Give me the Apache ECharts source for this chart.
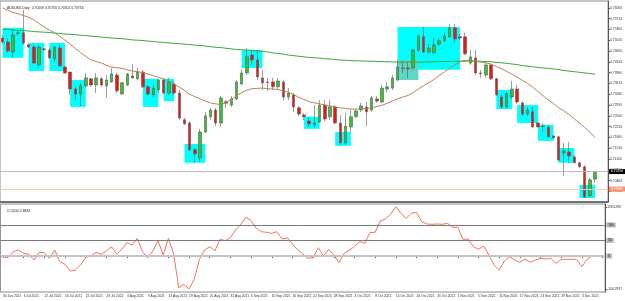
<!DOCTYPE html>
<html><head><meta charset="utf-8">
<script src="https://cdn.jsdelivr.net/npm/echarts@6/dist/echarts.min.js"></script>
<style>html,body{margin:0;padding:0;background:#fff}#c{width:625px;height:301px}</style>
</head><body><div id="c"></div><script>
const dates = ['30 Jun 2021',
'1 Jul 2021','2 Jul 2021','5 Jul 2021','6 Jul 2021','7 Jul 2021','8 Jul 2021','9 Jul 2021','12 Jul 2021','13 Jul 2021','14 Jul 2021','15 Jul 2021','16 Jul 2021','19 Jul 2021','20 Jul 2021','21 Jul 2021','22 Jul 2021','23 Jul 2021','26 Jul 2021','27 Jul 2021','28 Jul 2021','29 Jul 2021','30 Jul 2021',
'2 Aug 2021','3 Aug 2021','4 Aug 2021','5 Aug 2021','6 Aug 2021','9 Aug 2021','10 Aug 2021','11 Aug 2021','12 Aug 2021','13 Aug 2021','16 Aug 2021','17 Aug 2021','18 Aug 2021','19 Aug 2021','20 Aug 2021','23 Aug 2021','24 Aug 2021','25 Aug 2021','26 Aug 2021','27 Aug 2021','30 Aug 2021','31 Aug 2021',
'1 Sep 2021','2 Sep 2021','3 Sep 2021','6 Sep 2021','7 Sep 2021','8 Sep 2021','9 Sep 2021','10 Sep 2021','13 Sep 2021','14 Sep 2021','15 Sep 2021','16 Sep 2021','17 Sep 2021','20 Sep 2021','21 Sep 2021','22 Sep 2021','23 Sep 2021','24 Sep 2021','27 Sep 2021','28 Sep 2021','29 Sep 2021','30 Sep 2021',
'1 Oct 2021','4 Oct 2021','5 Oct 2021','6 Oct 2021','7 Oct 2021','8 Oct 2021','11 Oct 2021','12 Oct 2021','13 Oct 2021','14 Oct 2021','15 Oct 2021','18 Oct 2021','19 Oct 2021','20 Oct 2021','21 Oct 2021','22 Oct 2021','25 Oct 2021','26 Oct 2021','27 Oct 2021','28 Oct 2021','29 Oct 2021',
'1 Nov 2021','2 Nov 2021','3 Nov 2021','4 Nov 2021','5 Nov 2021','8 Nov 2021','9 Nov 2021','10 Nov 2021','11 Nov 2021','12 Nov 2021','15 Nov 2021','16 Nov 2021','17 Nov 2021','18 Nov 2021','19 Nov 2021','22 Nov 2021','23 Nov 2021','24 Nov 2021','25 Nov 2021','26 Nov 2021','29 Nov 2021','30 Nov 2021',
'1 Dec 2021','2 Dec 2021','3 Dec 2021','6 Dec 2021','7 Dec 2021'];

const open = [.7508,.7495,.7463,.7523,.7525,.7486,.7479,.7421,.7473,.7469,
.7440,.7476,.7414,.7398,.7343,.7327,.7353,.7376,.7356,.7376,
.7353,.7366,.7388,.7327,.7356,.7385,.7376,.7398,.7350,.7324,
.7340,.7372,.7330,.7359,.7330,.7243,.7233,.7146,.7120,.7204,
.7253,.7275,.7233,.7302,.7291,.7311,.7359,.7395,.7453,.7437,
.7379,.7366,.7366,.7350,.7366,.7317,.7324,.7282,.7259,.7239,
.7227,.7236,.7291,.7253,.7285,.7233,.7169,.7220,.7253,.7275,
.7285,.7275,.7311,.7301,.7343,.7346,.7372,.7411,.7411,.7411,
.7469,.7512,.7463,.7460,.7489,.7499,.7512,.7541,.7512,.7512,
.7427,.7444,.7395,.7388,.7421,.7376,.7317,.7285,.7317,.7343,
.7298,.7262,.7269,.7233,.7223,.7220,.7191,.7188,.7136,.7139,
.7123,.7104,.7091,.6997,.70509];
const close = [.7495,.7466,.7518,.7525,.7492,.7479,.7427,.7479,.7471,.7444,
.7479,.7418,.7395,.7343,.7327,.7353,.7379,.7356,.7379,.7356,
.7372,.7392,.7337,.7363,.7392,.7379,.7398,.7350,.7327,.7346,
.7372,.7330,.7366,.7330,.7249,.7230,.7146,.7133,.7204,.7256,
.7275,.7233,.7314,.7297,.7311,.7366,.7395,.7447,.7437,.7382,
.7363,.7364,.7350,.7369,.7317,.7330,.7285,.7262,.7253,.7230,
.7233,.7291,.7246,.7285,.7233,.7169,.7223,.7253,.7272,.7288,
.7269,.7314,.7304,.7346,.7350,.7379,.7414,.7410,.7408,.7469,
.7515,.7463,.7476,.7486,.7499,.7515,.7541,.7505,.7508,.7457,
.7447,.7395,.7392,.7421,.7376,.7324,.7285,.7327,.7343,.7301,
.7262,.7275,.7220,.7220,.7222,.7188,.7185,.7113,.7142,.7126,
.7104,.7091,.6993,.7049,.70756];
const low = [.7489,.7460,.7444,.7518,.7486,.7476,.7424,.7411,.7466,.7440,
.7431,.7414,.7392,.7324,.7307,.7288,.7350,.7350,.7330,.7350,
.7314,.7363,.7330,.7324,.7353,.7376,.7372,.7346,.7321,.7317,
.7330,.7327,.7324,.7324,.7243,.7227,.7142,.7104,.7107,.7201,
.7243,.7223,.7220,.7282,.7285,.7307,.7356,.7388,.7421,.7372,
.7340,.7337,.7340,.7340,.7307,.7307,.7269,.7256,.7243,.7220,
.7220,.7233,.7239,.7243,.7230,.7162,.7162,.7201,.7250,.7269,
.7223,.7269,.7298,.7298,.7333,.7340,.7369,.7395,.7379,.7405,
.7463,.7460,.7457,.7457,.7482,.7495,.7508,.7495,.7502,.7453,
.7421,.7388,.7379,.7379,.7372,.7321,.7278,.7282,.7311,.7295,
.7256,.7256,.7217,.7220,.7204,.7185,.7181,.7107,.7061,.7104,
.7104,.7088,.6990,.6993,.70390];
const high = [.7515,.7508,.7534,.7531,.7599,.7489,.7486,.7486,.7476,.7476,
.7482,.7486,.7418,.7398,.7350,.7363,.7395,.7379,.7395,.7382,
.7388,.7411,.7395,.7366,.7395,.7424,.7411,.7405,.7356,.7356,
.7376,.7379,.7379,.7366,.7340,.7249,.7239,.7152,.7214,.7269,
.7282,.7282,.7321,.7307,.7321,.7372,.7405,.7476,.7469,.7469,
.7405,.7379,.7379,.7379,.7372,.7346,.7330,.7288,.7266,.7253,
.7291,.7307,.7307,.7307,.7291,.7259,.7266,.7275,.7278,.7298,
.7301,.7321,.7321,.7356,.7366,.7388,.7437,.7434,.7431,.7473,
.7518,.7544,.7489,.7508,.7508,.7525,.7554,.7554,.7521,.7525,
.7469,.7469,.7405,.7427,.7427,.7379,.7324,.7333,.7369,.7356,
.7304,.7285,.7285,.7236,.7233,.7227,.7194,.7191,.7169,.7172,
.7129,.7107,.7097,.7055,.70756];

const maBrown = [.7606,.7598,.7591,.7586,.7581,.7575,.7567,.7555,.7544,.7534,
.7525,.7514,.7501,.7488,.7474,.7461,.7449,.7437,.7432,.7427,
.7420,.7414,.7412,.7410,.7405,.7401,.7399,.7396,.7391,.7386,
.7381,.7375,.7368,.7359,.7349,.7338,.7326,.7318,.7311,.7304,
.7298,.7295,.7292,.7300,.7309,.7321,.7332,.7339,.7344,.7345,
.7346,.7344,.7343,.7341,.7337,.7332,.7325,.7316,.7309,.7302,
.7298,.7295,.7291,.7288,.7285,.7282,.7280,.7278,.7278,.7279,
.7280,.7282,.7286,.7290,.7297,.7304,.7311,.7317,.7322,.7331,
.7343,.7354,.7363,.7374,.7387,.7398,.7410,.7421,.7431,.7436,
.7435,.7433,.7430,.7428,.7423,.7416,.7408,.7400,.7391,.7381,
.7371,.7361,.7349,.7335,.7321,.7307,.7296,.7282,.7272,.7260,
.7246,.7233,.7218,.7203,.7186];
const maGreen = [.7537,.7536,.7534,.7533,.7532,.7531,.7529,.7528,.7527,.7526,
.7524,.7523,.7521,.7520,.7519,.7517,.7516,.7514,.7513,.7511,
.7510,.7508,.7507,.7506,.7504,.7502,.7501,.7500,.7498,.7497,
.7495,.7494,.7492,.7491,.7490,.7488,.7487,.7485,.7484,.7482,
.7480,.7478,.7477,.7475,.7473,.7471,.7470,.7469,.7468,.7467,
.7465,.7463,.7460,.7458,.7456,.7453,.7451,.7449,.7447,.7445,
.7444,.7443,.7441,.7440,.7438,.7437,.7436,.7435,.7434,.7434,
.7433,.7433,.7432,.7432,.7431,.7431,.7430,.7430,.7430,.7430,
.7430,.7430,.7431,.7431,.7432,.7432,.7432,.7433,.7433,.7433,
.7434,.7433,.7433,.7432,.7431,.7429,.7428,.7426,.7424,.7422,
.7419,.7417,.7415,.7413,.7411,.7410,.7408,.7406,.7403,.7401,
.7399,.7397,.7395,.7393,.7391];
const cci = [-2.2,-5.4,13.9,19.4,8.6,5.4,-12.9,11.8,10.8,-7.5,
19.4,-18.3,-26.9,-48.4,-45.2,-29,-4.3,0,11.8,5.4,
16.1,30.1,6.5,21.5,43,35.5,57,14,-5.4,16.1,
49.5,3.2,57,8.6,-102.2,-91.4,-106.2937,-75.3,-10.8,19.4,
30.1,17.2,53.8,49.5,59.1,83.9,102.2,124.7,114,89.2,
78.5,76.3,73.1,78.5,54.8,59.1,38.7,19.4,6.5,-7.5,
-5.4,26.9,0,21.5,3.2,-21.5,8.6,19.4,30.1,46.2,
40.9,75.3,76.3,112.9,119.4,135.5,158.6296,137.6,121.5,137.6,
140.9,110.8,103.2,102.2,103.2,102.2,105.4,92.5,92.5,53.8,
54.8,30.1,21.5,32.3,3.2,-29,-45.2,-16.1,-2.2,-12.9,
-20.4,-9.7,-20.4,-12.9,-7.5,-9.7,-7.5,-23.7,-10.8,-10.8,
-10.8,-10.8,-34.4,-10.8,0.8482];

const priceTicks = [0.76060,0.75710,0.75360,0.75010,0.74660,0.74310,0.73960,0.73610,0.73260,0.72910,0.72560,0.72210,0.71860,0.71510,0.71160,0.70810,0.70460,0.70110,0.69760];
const cciTicks = [-106.2937, 158.6296];
const cciLevels = [100, 50, 0];
// [firstBar, lastBar, low, high, color]
const boxes = [
 [0,4,.7444,.7541,'#00ffff'],[5,8,.7401,.7492,'#00ffff'],[9,12,.7401,.7492,'#00ffff'],
 [13,16,.7285,.7372,'#00ffff'],[27,30,.7285,.7376,'#00ffff'],[31,33,.7304,.7376,'#00ffff'],
 [35,39,.7104,.7165,'#00ffff'],[46,50,.7411,.7469,'#00ffff'],[58,61,.7214,.7253,'#00ffff'],
 [64,67,.7159,.7204,'#00ffff'],[76,88,.7405,.7544,'#00ffff'],[76,80,.7372,.7437,'#5fd6c4'],
 [95,98,.7278,.7340,'#00ffff'],[99,103,.7233,.7291,'#00ffff'],[103,106,.7175,.7227,'#00ffff'],
 [107,110,.7104,.7152,'#00ffff'],[111,114,.6990,.7032,'#00ffff']];
const bidPrice = 0.70756;
const hLinePrice = 0.70190;
const symbolTitle = 'AUDUSD,Daily  0.70509 0.70756 0.70502 0.70756';
const cciTitle = 'CCI(14) 0.8482';

const cats = dates.concat(['', '']);
const ohlc = dates.map((d, i) => [open[i], close[i], low[i], high[i]]);
const F = 'Liberation Sans, Arial, sans-serif';

const chart = echarts.init(document.getElementById('c'), null, {renderer: 'canvas'});
chart.setOption({
  animation: false,
  backgroundColor: '#ffffff',
  title: [
    {text: symbolTitle, left: 2, top: 2, textStyle: {fontSize: 3.4, fontWeight: 'normal', color: '#222', fontFamily: F}},
    {text: cciTitle, left: 2, top: 205, textStyle: {fontSize: 3.4, fontWeight: 'normal', color: '#222', fontFamily: F}}
  ],
  grid: [
    {left: 0, right: 15, top: 1, height: 201, show: true, borderColor: '#8a8a8a', borderWidth: 1, backgroundColor: '#fff'},
    {left: 0, right: 15, top: 204, height: 88, show: true, borderColor: '#8a8a8a', borderWidth: 1, backgroundColor: '#fff'}
  ],
  xAxis: [
    {type: 'category', gridIndex: 0, data: cats, boundaryGap: true,
     axisLine: {show: true, lineStyle: {color: '#555', width: 1.5}}, axisTick: {show: false}, axisLabel: {show: false}, splitLine: {show: false}},
    {type: 'category', gridIndex: 1, data: cats, boundaryGap: true,
     axisLine: {show: true, lineStyle: {color: '#555'}},
     axisTick: {show: true, interval: 3, alignWithLabel: true, length: 2, lineStyle: {color: '#555'}},
     axisLabel: {show: true, interval: 3, align: 'left', fontSize: 3.3, color: '#333', margin: 2.5, fontFamily: F},
     splitLine: {show: false}}
  ],
  yAxis: [
    {type: 'value', gridIndex: 0, position: 'right', min: 0.6977, max: 0.7628,
     axisLine: {show: true, lineStyle: {color: '#555'}},
     axisTick: {show: true, customValues: priceTicks, length: 2, lineStyle: {color: '#555'}},
     axisLabel: {show: true, customValues: priceTicks, formatter: v => v.toFixed(5), fontSize: 3.3, color: '#333', margin: 2, fontFamily: F},
     splitLine: {show: false}},
    {type: 'value', gridIndex: 1, position: 'right', min: -116.1, max: 167.7,
     axisLine: {show: true, lineStyle: {color: '#555'}},
     axisTick: {show: true, customValues: cciTicks, length: 2, lineStyle: {color: '#555'}},
     axisLabel: {show: true, customValues: cciTicks, formatter: v => v.toFixed(4), fontSize: 3.3, color: '#333', margin: 2, fontFamily: F},
     splitLine: {show: false}}
  ],
  series: [
    {type: 'line', name: 'boxes', xAxisIndex: 0, yAxisIndex: 0, z: 1, data: cats.map(() => '-'), showSymbol: false, silent: true,
     markArea: {silent: true, itemStyle: {opacity: 1, borderWidth: 0},
       data: boxes.map(b => [{xAxis: dates[b[0]], yAxis: b[2], itemStyle: {color: b[4]}}, {xAxis: dates[b[1]], yAxis: b[3]}])},
     markLine: {silent: true, precision: 5, symbol: ['none', 'none'],
       data: [
         {yAxis: bidPrice, lineStyle: {color: '#bdbdbd', width: 1, type: 'solid'},
          label: {show: true, position: 'end', distance: 1, formatter: p => Number(p.value).toFixed(5), fontSize: 3.3, color: '#fff', backgroundColor: '#000', padding: [1, 2], fontFamily: F}},
         {yAxis: hLinePrice, lineStyle: {color: '#ffc6b2', width: 1, type: 'solid'},
          label: {show: true, position: 'end', distance: 1, formatter: p => Number(p.value).toFixed(5), fontSize: 3.3, color: '#fff', backgroundColor: '#fa8e6c', padding: [1, 2], fontFamily: F}}
       ]}},
    {type: 'candlestick', name: 'AUDUSD', xAxisIndex: 0, yAxisIndex: 0, z: 3, data: ohlc, barWidth: 3,
     itemStyle: {color: '#33c433', color0: '#f01414', borderColor: '#5a5a5a', borderColor0: '#5a5a5a', borderWidth: 0.6}},
    {type: 'line', name: 'MA brown', xAxisIndex: 0, yAxisIndex: 0, z: 4, data: maBrown, showSymbol: false, smooth: false,
     lineStyle: {color: '#c08055', width: 1}},
    {type: 'line', name: 'MA green', xAxisIndex: 0, yAxisIndex: 0, z: 4, data: maGreen, showSymbol: false,
     lineStyle: {color: '#3aa83a', width: 1}},
    {type: 'line', name: 'CCI', xAxisIndex: 1, yAxisIndex: 1, z: 4, data: cci, showSymbol: false,
     lineStyle: {color: '#f4735a', width: 1},
     markLine: {silent: true, precision: 4, symbol: ['none', 'none'],
       data: cciLevels.map(v => ({yAxis: v,
         lineStyle: {color: v === 0 ? '#c4c4c4' : '#7a7a7a', width: v === 0 ? 2 : 1, type: 'solid'},
         label: {show: true, position: 'end', distance: 1, formatter: p => String(Number(p.value)), fontSize: 3.3, color: '#111', backgroundColor: '#b8b8b8', padding: [1, 2], fontFamily: F}}))}}
  ]
});
</script></body></html>
